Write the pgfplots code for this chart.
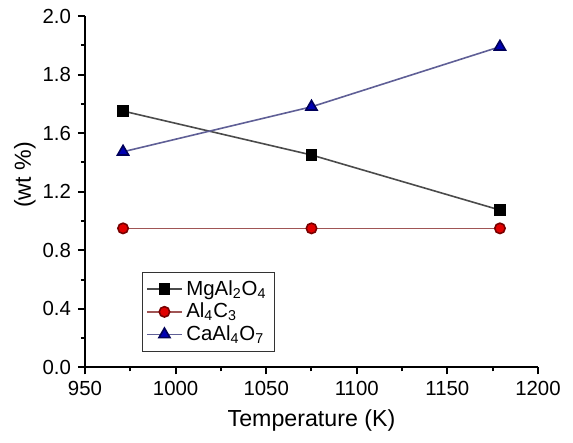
\documentclass[border=0pt]{standalone}
\usepackage{fontspec}
\setmainfont{Liberation Sans}
\usepackage{pgfplots}
\pgfplotsset{compat=1.18}
\definecolor{mgline}{RGB}{75,75,75}
\definecolor{alline}{RGB}{160,85,85}
\definecolor{alfill}{RGB}{225,0,0}
\definecolor{aledge}{RGB}{120,0,0}
\definecolor{caline}{RGB}{95,95,150}
\definecolor{cafill}{RGB}{0,0,180}
\definecolor{caedge}{RGB}{0,0,90}
\begin{document}
\begin{tikzpicture}
\begin{axis}[
  at={(0,0)}, anchor=south west,
  scale only axis, width=226.5pt, height=175.75pt,
  axis lines=left, axis line style={-, line width=1pt},
  xmin=950, xmax=1200, ymin=0, ymax=2.4,
  xtick={950,1000,1050,1100,1150,1200}, minor x tick num=1,
  ytick={0,0.4,0.8,1.2,1.6,2.0,2.4},
  yticklabels={0.0,0.4,0.8,1.2,1.6,1.8,2.0},
  minor y tick num=1,
  tick align=outside, major tick length=3.5pt, minor tick length=2pt,
  tick style={line width=1pt, black},
  /pgf/number format/assume math mode=true,
  xticklabel style={/pgf/number format/1000 sep={}},
  tick label style={font=\fontsize{10.2}{12}\selectfont},
  label style={font=\fontsize{11.6}{14}\selectfont},
  xlabel={Temperature (K)}, ylabel={(wt \%)},
  ylabel style={at={(axis description cs:-0.133,0.548)}, anchor=center},
  legend style={at={(0.126,0.272)}, anchor=north west, draw=black!80,
    line width=0.5pt, font=\fontsize{10.2}{11.75}\selectfont,
    inner xsep=2pt, inner ysep=2pt, row sep=-1.6pt},
  legend cell align=left,
]
\addplot[mgline, line width=0.8pt, mark=square*, mark size=2.5pt,
  mark options={fill=black, draw=black}]
  coordinates {(971,1.751) (1075,1.451) (1179,1.075)};
\addlegendentry{MgAl\textsubscript{2}O\textsubscript{4}}
\addplot[alline, line width=0.8pt, mark=*, mark size=2.6pt,
  mark options={fill=alfill, draw=aledge}]
  coordinates {(971,0.950) (1075,0.950) (1179,0.950)};
\addlegendentry{Al\textsubscript{4}C\textsubscript{3}}
\addplot[caline, line width=0.8pt, mark=triangle*, mark size=3.2pt,
  mark options={fill=cafill, draw=caedge}]
  coordinates {(971,1.473) (1075,1.780) (1179,2.190)};
\addlegendentry{CaAl\textsubscript{4}O\textsubscript{7}}
\end{axis}
\pgfresetboundingbox
\path (-42.5pt,-37.75pt) rectangle (244pt,183.75pt);
\end{tikzpicture}
\end{document}
